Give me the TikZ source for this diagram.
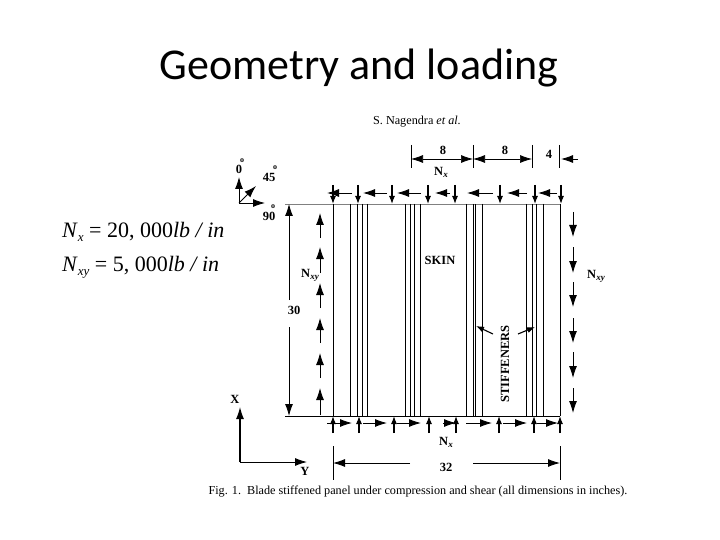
\documentclass[tikz,border=0pt]{standalone}
\usepackage{fontspec}
\setmainfont{Liberation Serif}
\newfontfamily\titlefont{Carlito}
\usetikzlibrary{arrows.meta}
\tikzset{
  bigarrow/.style={-{Latex[length=12pt,width=8pt]},line width=0.9pt},
  dimarrow/.style={{Latex[length=12pt,width=8pt]}-{Latex[length=12pt,width=8pt]},line width=0.7pt},
  tinyarrow/.style={-{Latex[length=8pt,width=6pt]},line width=1.1pt},
  panelline/.style={line width=0.8pt},
  tagtext/.style={font=\bfseries\fontsize{12.5}{12.5}\selectfont,inner sep=0pt}
}
\begin{document}
\begin{tikzpicture}[x=1pt,y=-1pt]
\useasboundingbox (0,0) rectangle (720,540);
\fill[white] (0,0) rectangle (720,540);

% Title and running head
\node[font=\titlefont\fontsize{44}{44}\selectfont,inner sep=0pt] (title) at (359,68) {Geometry and loading};
\node[font=\fontsize{12.2}{13}\selectfont,inner sep=0pt] (head) at (417,122) {S. Nagendra \textit{et al.}};

% Loads
\node[font=\fontsize{22}{22}\selectfont,inner sep=0pt,anchor=west] (nx) at (62,232) {\textit{N}\raisebox{-4pt}{\fontsize{13}{13}\selectfont\textit{x}} = 20, 000\textit{lb / in}};
\node[font=\fontsize{22}{22}\selectfont,inner sep=0pt,anchor=west] (nxy) at (62,267) {\textit{N}\raisebox{-4pt}{\fontsize{13}{13}\selectfont\textit{xy}} = 5, 000\textit{lb / in}};

% Panel edges
\draw[gray,line width=0.9pt] (285,204) -- (560,204);
\draw[line width=0.9pt] (285,416) -- (560,416);
\draw[line width=1pt] (333,204) -- (333,416);
\draw[line width=1pt] (560,204) -- (560,416);

% Stiffeners
\foreach \x in {350,357,362,367,405,410,414,420,466,473,475,482,526,532,536,543}
  \draw[panelline] (\x,204) -- (\x,416);

% Top and bottom compression arrows
\foreach \x/\y in {352/327,387/363,421/397,450/435,493/467,527/507,557/538}
  \draw[bigarrow] (\x,193) -- (\y,193);
\foreach \x/\y in {327/352,363/387,397/421,443/456,466/492,503/527,537/558}
  \draw[bigarrow] (\x,423) -- (\y,423);
\foreach \x in {333,358,392,428,455,500,535,561}
  \draw[tinyarrow] (\x,185) -- (\x,204);
\foreach \x in {333,359,394,429,456,499,534,560}
  \draw[tinyarrow] (\x,433) -- (\x,416);

% Shear arrows
\foreach \a/\b in {238/213,273/247,308/283,343/318,378/353,415/388}
  \draw[bigarrow] (320,\a) -- (320,\b);
\foreach \a/\b in {212/237,247/273,282/307,318/343,352/378,388/413}
  \draw[bigarrow] (573,\a) -- (573,\b);

% Dimensions
\foreach \x in {411,473,532,559}
  \draw[line width=0.9pt] (\x,145) -- (\x,168);
\draw[dimarrow] (411,159) -- (473,159);
\draw[dimarrow] (473,159) -- (532,159);
\draw[bigarrow] (578,159) -- (561,159);
\draw[bigarrow] (289,300) -- (289,204);
\draw[bigarrow] (289,327) -- (289,416);
\draw[line width=0.9pt] (333,446) -- (333,480);
\draw[line width=0.9pt] (560,446) -- (560,480);
\draw[bigarrow] (410,463) -- (333,463);
\draw[bigarrow] (473,463) -- (560,463);
\node[tagtext] (dima) at (443,150) {8};
\node[tagtext] (dimb) at (505,150) {8};
\node[tagtext] (dimc) at (549,154) {4};
\node[tagtext] (dimh) at (294,310) {30};
\node[tagtext] (dimw) at (446,467) {32};

% Force labels
\node[tagtext] (nxtop) at (441,172) {N\raisebox{-2pt}{\fontsize{9}{9}\selectfont\textit{x}}};
\node[tagtext] (nxbot) at (446,442) {N\raisebox{-2pt}{\fontsize{9}{9}\selectfont\textit{x}}};
\node[tagtext] (nxyl) at (310,275) {N\raisebox{-2pt}{\fontsize{9}{9}\selectfont\textit{xy}}};
\node[tagtext] (nxyr) at (596,276) {N\raisebox{-2pt}{\fontsize{9}{9}\selectfont\textit{xy}}};

% Skin and stiffeners labels
\node[tagtext] (skin) at (440,260) {SKIN};
\node[tagtext,rotate=90] (stiff) at (505,364) {STIFFENERS};
\draw[tinyarrow] (493,334) -- (476,326);
\draw[tinyarrow] (518,334) -- (535,327);

% Ply directions
\coordinate (ply) at (239,203);
\draw[bigarrow] (ply) -- (239,177);
\draw[bigarrow] (ply) -- (256,186);
\draw[bigarrow] (ply) -- (265,203);
\node[tagtext] (zero) at (239,169) {0};
\node[tagtext] (deg) at (269,177) {45};
\node[tagtext] (ninety) at (269,216) {90};
\node[font=\bfseries\fontsize{8}{8}\selectfont,inner sep=0pt] (zeroo) at (242,161) {o};
\node[font=\bfseries\fontsize{8}{8}\selectfont,inner sep=0pt] (dego) at (275,168) {o};
\node[font=\bfseries\fontsize{8}{8}\selectfont,inner sep=0pt] (ninetyo) at (273,207) {o};

% Axes
\coordinate (orig) at (240,462);
\draw[bigarrow,line width=1.2pt] (orig) -- (240,407);
\draw[bigarrow] (orig) -- (307,462);
\node[tagtext] (axx) at (235,399) {X};
\node[tagtext] (axy) at (305,471) {Y};

% Caption
\node[font=\fontsize{12.2}{13}\selectfont,inner sep=0pt] (cap) at (418,492) {Fig. 1.\ \ Blade stiffened panel under compression and shear (all dimensions in inches).};
\end{tikzpicture}
\end{document}
